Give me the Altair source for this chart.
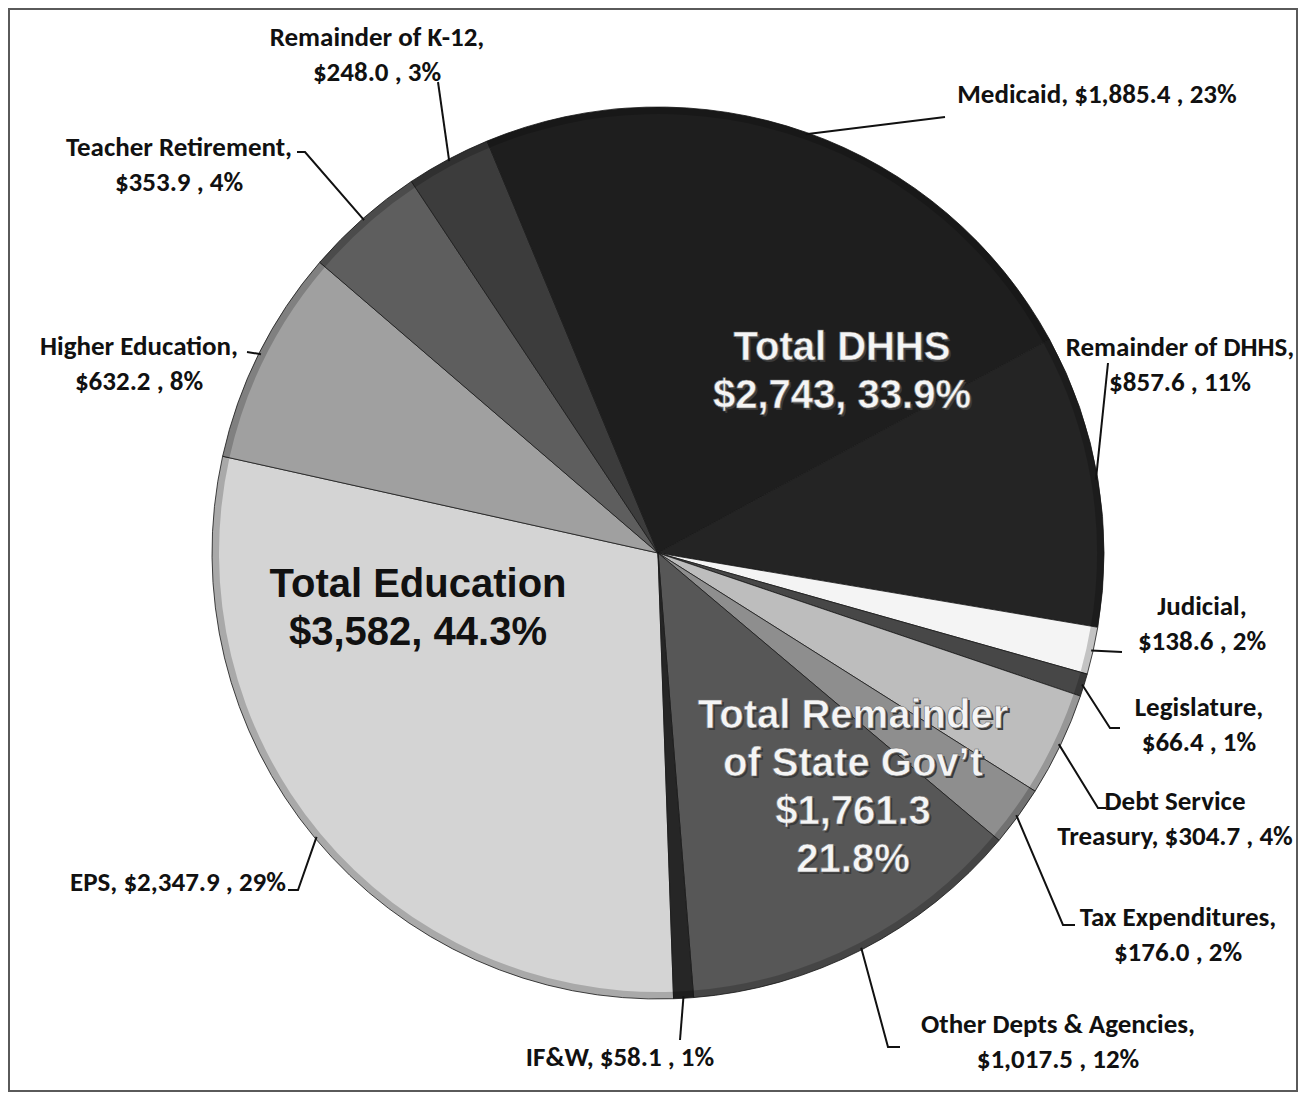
import math
import altair as alt
import pandas as pd

# ---------------- data ----------------
names = ["EPS", "Higher Education", "Teacher Retirement", "Remainder of K-12",
         "Medicaid", "Remainder of DHHS", "Judicial", "Legislature",
         "Debt Service Treasury", "Tax Expenditures", "Other Depts & Agencies", "IF&W"]
values = [2347.9, 632.2, 353.9, 248.0, 1885.4, 857.6, 138.6, 66.4, 304.7, 176.0, 1017.5, 58.1]
pcts = [29, 8, 4, 3, 23, 11, 2, 1, 4, 2, 12, 1]

group_names = ["Total Education", "Total DHHS", "Total Remainder\nof State Gov\u2019t"]
group_amounts = ["$3,582", "$2,743", "$1,761.3"]
group_pcts = ["44.3%", "33.9%", "21.8%"]

# ---------------- styles / layout ----------------
colors = ["#d4d4d4", "#a0a0a0", "#5e5e5e", "#3c3c3c", "#1e1e1e", "#242424",
          "#f4f4f4", "#474747", "#bdbdbd", "#8e8e8e", "#575757", "#262626"]

W, H = 1290, 1084
CX, CY, R = 650, 545, 446
START = math.radians(178)

# (first-line centre), separator, leader elbow/end points
label_layout = {
    "EPS": ((170, 875), " ", [(290, 882), (280, 882)]),
    "Higher Education": ((131, 339), "\n", [(239, 344)]),
    "Teacher Retirement": ((171, 140), "\n", [(297, 144), (289, 144)]),
    "Remainder of K-12": ((369, 30), "\n", [(430, 74)]),
    "Medicaid": ((1089, 87), " ", [(937, 109)]),
    "Remainder of DHHS": ((1172, 340), "\n", [(1100, 355)]),
    "Judicial": ((1194, 599), "\n", [(1114, 644)]),
    "Legislature": ((1191, 700), "\n", [(1102, 720), (1112, 720)]),
    "Debt Service Treasury": ((1167, 794), " ", [(1090, 800), (1098, 800)]),
    "Tax Expenditures": ((1170, 910), "\n", [(1055, 917), (1067, 917)]),
    "Other Depts & Agencies": ((1050, 1017), "\n", [(880, 1039), (892, 1039)]),
    "IF&W": ((612, 1050), " ", [(672, 1032)]),
}
group_layout = [((410, 577), "black"), ((834, 340), "white"), ((845, 708), "white")]

LABEL_FONT = "Carlito, Liberation Sans Narrow, DejaVu Sans Condensed, sans-serif"
BIG_FONT = "Liberation Sans, Arial, sans-serif"

# ---------------- derived tables ----------------
total = sum(values)
pie_df = pd.DataFrame({"name": names, "value": values, "ord": list(range(len(names)))})

xs = alt.Scale(domain=[0, W], range=[0, W], nice=False, zero=False)
ys = alt.Scale(domain=[0, H], range=[0, H], nice=False, zero=False)

lab_rows, lead_rows = [], []
cum = 0.0
for i, (n, v, p) in enumerate(zip(names, values, pcts)):
    mid = START + 2 * math.pi * (cum + v / 2) / total
    cum += v
    (lx, ly), sep, pts = label_layout[n]
    disp = n.replace("Debt Service ", "Debt Service\n")
    lab_rows.append({"x": lx, "y": ly, "text": f"{disp},{sep}${v:,.1f} , {p}%"})
    ex = CX + (R - 2) * math.sin(mid)
    ey = CY - (R - 2) * math.cos(mid)
    chain = [(ex, ey)] + pts
    for k, (px, py) in enumerate(chain):
        lead_rows.append({"x": px, "y": py, "g": n, "k": k})

lab_df = pd.DataFrame(lab_rows)
lead_df = pd.DataFrame(lead_rows)

grp_rows = []
for (pos, col), gn, ga, gp in zip(group_layout, group_names, group_amounts, group_pcts):
    if "\n" in gn:
        t = f"{gn}\n{ga}\n{gp}"
    else:
        t = f"{gn}\n{ga}, {gp}"
    grp_rows.append({"x": pos[0], "y": pos[1], "text": t, "col": col})
grp_df = pd.DataFrame(grp_rows)

# ---------------- chart ----------------
theta_enc = alt.Theta("value:Q", stack=True,
                      scale=alt.Scale(range=[START, START + 2 * math.pi]))

pie = alt.Chart(pie_df).mark_arc(outerRadius=R, stroke="#1a1a1a", strokeWidth=0.8).encode(
    theta=theta_enc,
    color=alt.Color("name:N", scale=alt.Scale(domain=names, range=colors), legend=None),
    order=alt.Order("ord:Q"),
    x=alt.value(CX),
    y=alt.value(CY),
)

# subtle darkening at the rim (bevel look of the original)
rim = alt.Chart(pie_df).mark_arc(outerRadius=R, innerRadius=R - 7, color="black",
                                 opacity=0.2).encode(
    theta=theta_enc,
    order=alt.Order("ord:Q"),
    x=alt.value(CX),
    y=alt.value(CY),
)

leaders = alt.Chart(lead_df).mark_line(color="#111111", strokeWidth=2).encode(
    x=alt.X("x:Q", scale=xs, axis=None),
    y=alt.Y("y:Q", scale=ys, axis=None),
    detail="g:N",
    order="k:Q",
)

labels = alt.Chart(lab_df).mark_text(
    align="center", baseline="middle", lineBreak="\n", lineHeight=35,
    fontSize=27, fontWeight="bold", font=LABEL_FONT, color="#111111"
).encode(
    x=alt.X("x:Q", scale=xs, axis=None),
    y=alt.Y("y:Q", scale=ys, axis=None),
    text="text:N",
)

grp_white = grp_df[grp_df["col"] == "white"]
grp_black = grp_df[grp_df["col"] == "black"]

big_common = dict(align="center", baseline="middle", lineBreak="\n", lineHeight=48,
                  fontSize=40, fontWeight="bold", font=BIG_FONT)

shadow = alt.Chart(grp_white).mark_text(color="#3a3a3a", dx=2, dy=2, **big_common).encode(
    x=alt.X("x:Q", scale=xs, axis=None), y=alt.Y("y:Q", scale=ys, axis=None), text="text:N")
white_txt = alt.Chart(grp_white).mark_text(color="#f5f5f5", stroke="#6a6a6a", strokeWidth=0.6,
                                           **big_common).encode(
    x=alt.X("x:Q", scale=xs, axis=None), y=alt.Y("y:Q", scale=ys, axis=None), text="text:N")
black_txt = alt.Chart(grp_black).mark_text(color="#111111", **big_common).encode(
    x=alt.X("x:Q", scale=xs, axis=None), y=alt.Y("y:Q", scale=ys, axis=None), text="text:N")

chart = alt.layer(pie, rim, leaders, labels, shadow, white_txt, black_txt).properties(
    width=W, height=H,
    autosize=alt.AutoSizeParams(type="none"),
    padding=0,
    background="white",
).configure_view(stroke="#5a5a5a", strokeWidth=4)

chart.save("out.html", embed_options={"renderer": "svg", "actions": False})
